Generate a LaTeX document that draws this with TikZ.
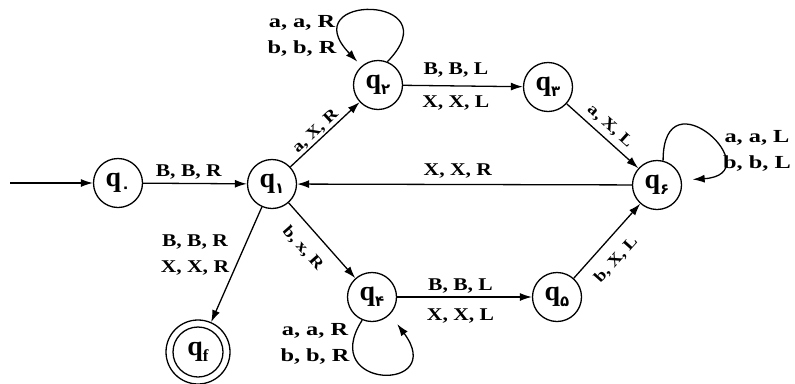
\documentclass[tikz,border=0pt]{standalone}
\usepackage{fontspec}
\setmainfont{Liberation Serif}
\newfontfamily\lblfont{Liberation Serif}[FakeStretch=1.2]
\newfontfamily\loopfont{Liberation Serif}[FakeStretch=1.32]
\newfontfamily\arabicfont[Script=Arabic]{DejaVu Sans}
\TeXXeTstate=1
\usetikzlibrary{arrows.meta}
\newcommand{\stname}[1]{q\raisebox{-0.2em}{\fontsize{15}{15}\selectfont\arabicfont\bfseries\beginR #1\endR}}
\tikzset{
  state/.style={circle, draw, line width=1.3pt, minimum size=49bp, inner sep=0pt, font=\fontsize{28}{28}\selectfont\bfseries},
  lbl/.style={font=\lblfont\fontsize{18}{26}\selectfont\bfseries, align=center},
  llbl/.style={font=\loopfont\fontsize{18.5}{26}\selectfont\bfseries, align=center},
  slbl/.style={font=\lblfont\fontsize{16}{18}\selectfont\bfseries},
  arr/.style={-{Latex[length=12bp,width=8bp]}, line width=1.3pt},
}
\begin{document}
\begin{tikzpicture}[x=1bp,y=1bp]
\useasboundingbox (0,0) rectangle (795,383);
\coordinate (start) at (10,200);
\node[state] (q0) at (118,200) {\stname{۰}};
\node[state] (q1) at (272,199) {\stname{۱}};
\node[state] (q2) at (378,298) {\stname{۲}};
\node[state] (q3) at (548,296) {\stname{۳}};
\node[state] (q6) at (657,198) {\stname{۶}};
\node[state] (q4) at (372,86) {\stname{۴}};
\node[state] (q5) at (557,86) {\stname{۵}};
\node[circle, draw, line width=1.3pt, minimum size=64bp] (qf) at (198,31) {};
\node[state, minimum size=50bp] (qfin) at (qf) {q\raisebox{-0.2em}{\fontsize{17}{17}\selectfont\bfseries f}};
\draw[arr] (start) -- (q0);
\draw[arr] (q0) -- node[lbl,above,pos=0.44,inner sep=3.5bp]{B, B, R} (q1);
\draw[arr] (q1) -- node[slbl,above,sloped,pos=0.45,inner sep=1.5bp]{a, X, R} (q2);
\draw[arr] (q2) -- node[lbl,above,pos=0.44,inner sep=8bp]{B, B, L} node[lbl,below,pos=0.44,inner sep=9bp]{X, X, L} (q3);
\draw[arr] (q3) -- node[slbl,above,sloped,pos=0.49,inner sep=5bp]{a, X, L} (q6);
\draw[arr] (q6) -- node[lbl,above,pos=0.52,inner sep=5.5bp]{X, X, R} (q1);
\draw[arr] (q1) -- node[slbl,below,sloped,pos=0.43,inner sep=12bp]{b, x, R} (q4);
\draw[arr] (q4) -- node[lbl,above,pos=0.47,inner sep=3.5bp]{B, B, L} node[lbl,below,pos=0.47,inner sep=11bp]{X, X, L} (q5);
\draw[arr] (q5) -- node[slbl,below,sloped,pos=0.42,inner sep=12bp]{b, X, L} (q6);
\draw[arr] (q1) -- (qf);
\node[lbl] (lf) at (195,128) {B, B, R\\X, X, R};
\draw[arr, shorten >=6bp] (q2.68) .. controls +(66,68) and +(-70,73) .. (q2.131);
\node[llbl] (l2) at (302,347) {a, a, R\\b, b, R};
\draw[arr, shorten >=11bp] (q6.76) .. controls +(0,90) and +(91,6) .. (q6.11);
\node[llbl] (l6) at (757,232) {a, a, L\\b, b, L};
\draw[arr, shorten >=12bp] (q4.-113) .. controls +(-45,-70) and +(58,-78) .. (q4.-44);
\node[llbl] (l4) at (315,39) {a, a, R\\b, b, R};
\end{tikzpicture}
\end{document}
